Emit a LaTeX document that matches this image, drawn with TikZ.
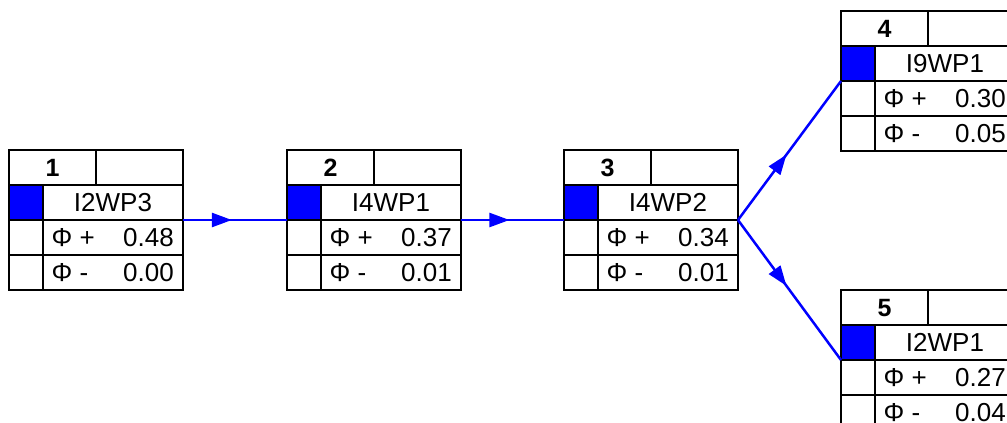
\documentclass[tikz,border=0pt]{standalone}
\usepackage{fontspec}
\setmainfont{Liberation Sans}
\usetikzlibrary{arrows.meta,decorations.markings}
\tikzset{
  wbox/.style={draw=black, line width=1.4pt, minimum width=174pt, minimum height=140pt, inner sep=0pt, outer sep=0pt},
  grid/.style={draw=black, line width=1.4pt},
  lbl/.style={inner sep=0pt, font=\fontsize{26}{30}\selectfont},
  conn/.style={draw=blue, line width=2.5pt,
    postaction={decorate, decoration={markings, mark=at position 0.47 with {\arrow[blue]{Triangle[length=20pt,width=14pt]}}}}}
}
\newcommand\wpbox[7]{%
  \node[wbox] (#1) at (#2+87,#3+70) {};
  \fill[blue] (#2,#3+35) rectangle (#2+34,#3+70);
  \draw[grid] (#2,#3+35) -- (#2+174,#3+35);
  \draw[grid] (#2,#3+70) -- (#2+174,#3+70);
  \draw[grid] (#2,#3+105) -- (#2+174,#3+105);
  \draw[grid] (#2+34,#3+35) -- (#2+34,#3+140);
  \draw[grid] (#2+87,#3) -- (#2+87,#3+35);
  \draw[grid] (#1.north west) rectangle (#1.south east);
  \node[lbl, anchor=base, font=\fontsize{25}{30}\selectfont\bfseries] (#1n) at (#2+43.5,#3+26.5) {#4};
  \node[lbl, anchor=base] (#1l) at (#2+104,#3+61.5) {#5};
  \node[lbl, anchor=base west] (#1pa) at (#2+42.5,#3+96) {Φ +};
  \node[lbl, anchor=base east] (#1pv) at (#2+165,#3+96) {#6};
  \node[lbl, anchor=base west] (#1ma) at (#2+42.5,#3+131) {Φ -};
  \node[lbl, anchor=base east] (#1mv) at (#2+165,#3+131) {#7};
}
\begin{document}
\begin{tikzpicture}[x=1pt,y=-1pt]
\useasboundingbox (0,0) rectangle (1007,423);
\clip (0,0) rectangle (1007,423);
\fill[white] (0,0) rectangle (1007,423);
\wpbox{b1}{9}{150}{1}{I2WP3}{0.48}{0.00}
\wpbox{b2}{287}{150}{2}{I4WP1}{0.37}{0.01}
\wpbox{b3}{564}{150}{3}{I4WP2}{0.34}{0.01}
\wpbox{b4}{841}{11}{4}{I9WP1}{0.30}{0.05}
\wpbox{b5}{841}{290}{5}{I2WP1}{0.27}{0.04}
\draw[conn] (b1.east) -- (b2.west);
\draw[conn] (b2.east) -- (b3.west);
\draw[conn] (b3.east) -- (b4.west);
\draw[conn] (b3.east) -- (b5.west);
\end{tikzpicture}
\end{document}
